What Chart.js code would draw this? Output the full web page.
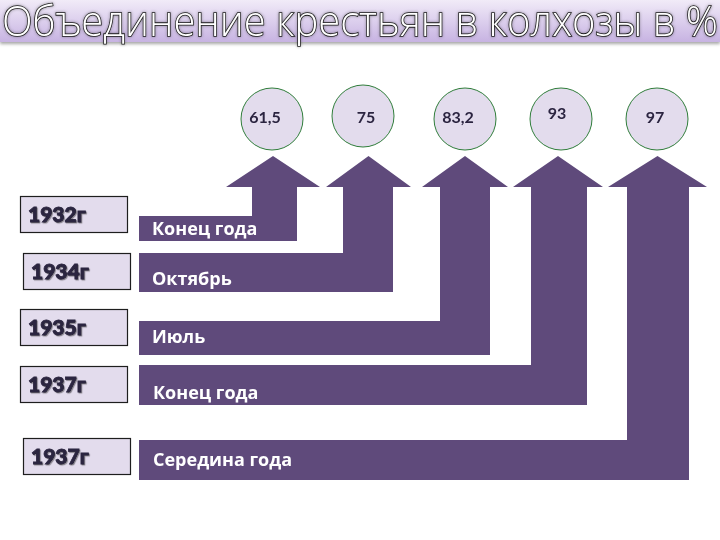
<!DOCTYPE html>
<html>
<head>
<meta charset="utf-8">
<script src="https://cdn.jsdelivr.net/npm/chart.js@4/dist/chart.umd.min.js"></script>
<style>
  html, body { margin: 0; padding: 0; background: #ffffff; }
  #wrap { width: 720px; height: 540px; position: relative; }
</style>
</head>
<body>
<div id="wrap"><canvas id="c" width="720" height="540"></canvas></div>
<script>
// ---- data ----
const titleText = "Объединение крестьян в колхозы в %";
const years = ["1932г", "1934г", "1935г", "1937г", "1937г"];
const periods = ["Конец года", "Октябрь", "Июль", "Конец года", "Середина года"];
const values = [61.5, 75, 83.2, 93, 97];

// ---- layout (positions in axis units, separate from data) ----
const LAYOUT = {
  barLeft: 139,
  barTop: [216, 253, 321, 365, 440],
  barBottom: [241, 292, 355, 405, 480],
  shaftL: [252, 343, 440, 531, 627],
  shaftR: [297, 393, 490, 587, 689],
  headL: [226, 326, 422, 513, 608],
  headR: [320, 411, 508, 603, 707],
  headTop: 156,
  headBase: 187,
  labelX: [152, 152, 152, 153, 153],
  labelY: [230, 280, 338, 394, 461],
  boxX: [20, 23, 20, 20, 23],
  boxTop: [196, 253, 309, 366, 438],
  boxW: 107,
  boxH: 36,
  circleX: [272, 363, 465, 561, 657],
  circleY: [119, 116, 119, 119, 119],
  circleR: 31,
  valueX: [265, 366, 458, 557, 655],
  valueY: [118, 118, 118, 114, 118]
};

const PURPLE = "#5f4a7b";
const LAV = "#e3dced";

function fmt(v) { return String(v).replace(".", ","); }

const drawPlugin = {
  id: "infographic",
  beforeDatasetsDraw(chart) {
    const ctx = chart.ctx;
    const xs = chart.scales.x, ys = chart.scales.y;
    const X = v => xs.getPixelForValue(v);
    const Y = v => ys.getPixelForValue(v);

    // Title banner
    const g = ctx.createLinearGradient(0, Y(0), 0, Y(42));
    g.addColorStop(0, "#f1ebf8");
    g.addColorStop(1, "#c7b3e2");
    ctx.save();
    ctx.shadowColor = "rgba(0,0,0,0.35)";
    ctx.shadowBlur = 3;
    ctx.shadowOffsetY = 2;
    ctx.fillStyle = g;
    ctx.fillRect(X(0), Y(0), X(720) - X(0), Y(42) - Y(0));
    ctx.restore();

    // Title text
    ctx.save();
    ctx.font = "300 43px 'Open Sans'";
    ctx.textBaseline = "alphabetic";
    const tw = ctx.measureText(titleText).width;
    const sx = (X(718) - X(2)) / tw;
    ctx.translate(X(2), Y(36));
    ctx.scale(sx, 1);
    ctx.shadowColor = "rgba(60,60,60,0.6)";
    ctx.shadowBlur = 3;
    ctx.lineWidth = 1.6;
    ctx.strokeStyle = "#1a1a1a";
    ctx.strokeText(titleText, 0, 0);
    ctx.shadowColor = "transparent";
    ctx.fillStyle = "#ffffff";
    ctx.fillText(titleText, 0, 0);
    ctx.restore();

    // L-shaped arrows
    ctx.save();
    ctx.fillStyle = PURPLE;
    for (let i = 0; i < periods.length; i++) {
      ctx.beginPath();
      ctx.moveTo(X(LAYOUT.barLeft), Y(LAYOUT.barTop[i]));
      ctx.lineTo(X(LAYOUT.shaftL[i]), Y(LAYOUT.barTop[i]));
      ctx.lineTo(X(LAYOUT.shaftL[i]), Y(LAYOUT.headBase));
      ctx.lineTo(X(LAYOUT.headL[i]), Y(LAYOUT.headBase));
      ctx.lineTo(X((LAYOUT.headL[i] + LAYOUT.headR[i]) / 2), Y(LAYOUT.headTop));
      ctx.lineTo(X(LAYOUT.headR[i]), Y(LAYOUT.headBase));
      ctx.lineTo(X(LAYOUT.shaftR[i]), Y(LAYOUT.headBase));
      ctx.lineTo(X(LAYOUT.shaftR[i]), Y(LAYOUT.barBottom[i]));
      ctx.lineTo(X(LAYOUT.barLeft), Y(LAYOUT.barBottom[i]));
      ctx.closePath();
      ctx.fill();
    }
    ctx.restore();

    // Period labels
    ctx.save();
    ctx.fillStyle = "#ffffff";
    ctx.font = "bold 18px 'Open Sans'";
    ctx.textBaseline = "middle";
    ctx.textAlign = "left";
    periods.forEach((p, i) => ctx.fillText(p, X(LAYOUT.labelX[i]), Y(LAYOUT.labelY[i])));
    ctx.restore();

    // Year boxes
    ctx.save();
    years.forEach((yr, i) => {
      const x0 = X(LAYOUT.boxX[i]), y0 = Y(LAYOUT.boxTop[i]);
      const w = X(LAYOUT.boxX[i] + LAYOUT.boxW) - x0, h = Y(LAYOUT.boxTop[i] + LAYOUT.boxH) - y0;
      ctx.fillStyle = LAV;
      ctx.fillRect(x0, y0, w, h);
      ctx.lineWidth = 1.2;
      ctx.strokeStyle = "#1e1e1e";
      ctx.strokeRect(x0 + 0.5, y0 + 0.5, w, h);
      ctx.font = "900 21px Lato";
      ctx.textBaseline = "middle";
      ctx.textAlign = "left";
      ctx.shadowColor = "rgba(0,0,0,0.35)";
      ctx.shadowOffsetX = 1;
      ctx.shadowOffsetY = 1;
      ctx.shadowBlur = 1;
      ctx.fillStyle = "#2b2540";
      ctx.strokeStyle = "#2b2540";
      ctx.lineWidth = 0.8;
      ctx.strokeText(yr, x0 + 8, y0 + h / 2 + 1);
      ctx.fillText(yr, x0 + 8, y0 + h / 2 + 1);
      ctx.shadowColor = "transparent";
    });
    ctx.restore();
  },
  afterDatasetsDraw(chart) {
    const ctx = chart.ctx;
    const xs = chart.scales.x, ys = chart.scales.y;
    ctx.save();
    ctx.fillStyle = "#2b2440";
    ctx.font = "bold 16px Lato";
    ctx.textAlign = "center";
    ctx.textBaseline = "middle";
    values.forEach((v, i) => {
      ctx.fillText(fmt(v), xs.getPixelForValue(LAYOUT.valueX[i]), ys.getPixelForValue(LAYOUT.valueY[i]));
    });
    ctx.restore();
  }
};

new Chart(document.getElementById("c"), {
  type: "bubble",
  data: {
    datasets: [{
      label: "%",
      data: values.map((v, i) => ({ x: LAYOUT.circleX[i], y: LAYOUT.circleY[i], r: LAYOUT.circleR, v: v })),
      backgroundColor: LAV,
      borderColor: "#2f7d3a",
      borderWidth: 1,
      hoverRadius: 0
    }]
  },
  options: {
    responsive: false,
    animation: false,
    events: [],
    layout: { padding: 0, autoPadding: false },
    clip: false,
    plugins: { legend: { display: false }, tooltip: { enabled: false }, title: { display: false } },
    scales: {
      x: { type: "linear", min: 0, max: 720, display: false },
      y: { type: "linear", min: 0, max: 540, reverse: true, display: false }
    }
  },
  plugins: [drawPlugin]
});
</script>
</body>
</html>
